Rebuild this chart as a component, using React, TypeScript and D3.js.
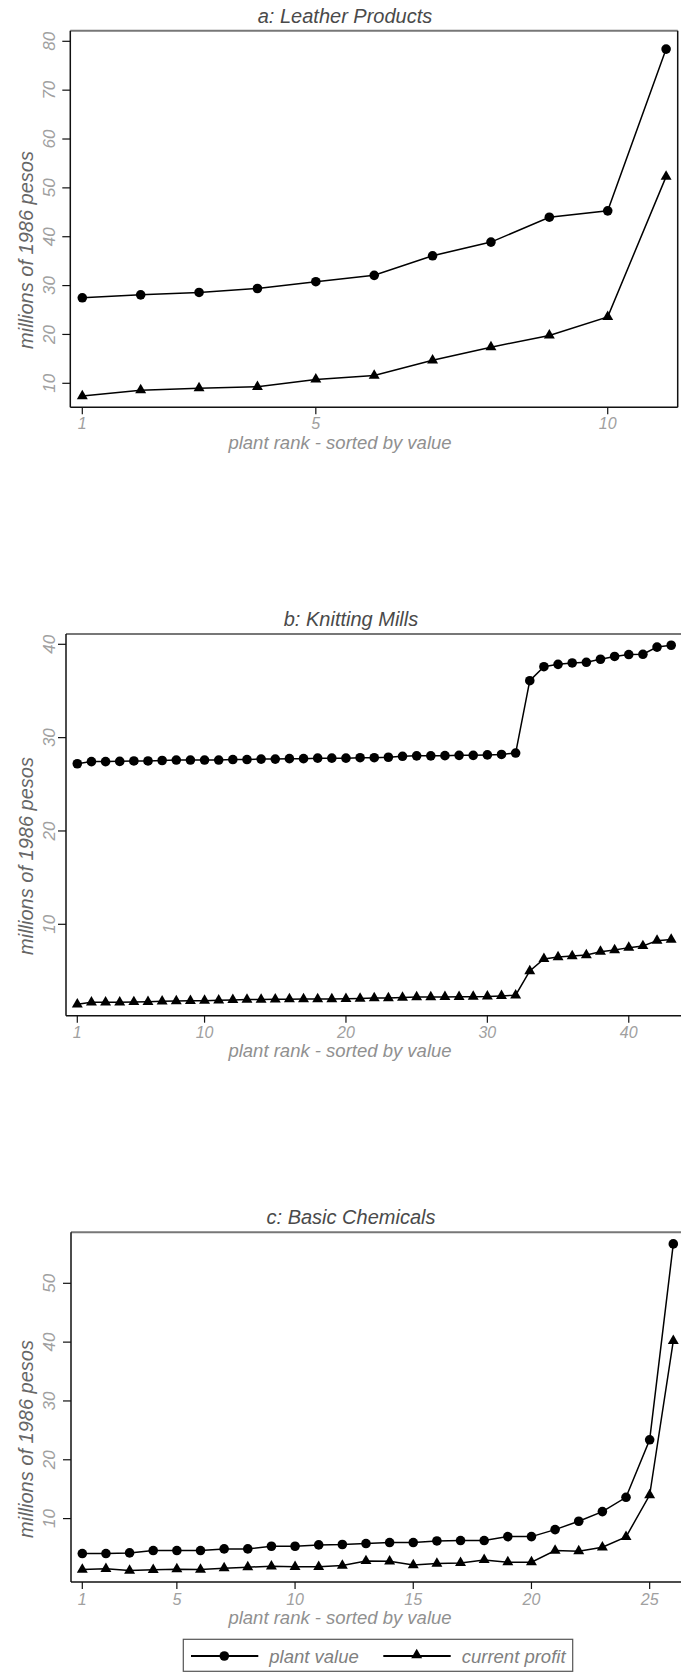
import React from "react";
import * as d3 from "d3";

// plant value / current profit, millions of 1986 pesos, sorted by plant rank
const leatherValue = [27.5, 28.1, 28.6, 29.4, 30.8, 32.1, 36.1, 38.9, 44.0, 45.3, 78.4];
const leatherProfit = [7.4, 8.6, 9.0, 9.3, 10.8, 11.6, 14.7, 17.4, 19.8, 23.6, 52.3];

const knittingValue = [
  27.2, 27.43, 27.43, 27.46, 27.5, 27.5, 27.55, 27.6, 27.6, 27.6, 27.6, 27.65, 27.65, 27.7, 27.7,
  27.75, 27.75, 27.8, 27.8, 27.8, 27.85, 27.85, 27.9, 28.0, 28.05, 28.05, 28.07, 28.1, 28.1, 28.15,
  28.2, 28.35, 36.1, 37.6, 37.85, 38.0, 38.07, 38.4, 38.7, 38.9, 38.93, 39.7, 39.9,
];
const knittingProfit = [
  1.43, 1.64, 1.64, 1.65, 1.68, 1.7, 1.75, 1.78, 1.8, 1.82, 1.86, 1.9, 1.93, 1.93, 1.96, 1.98, 2.0,
  2.0, 2.0, 2.02, 2.05, 2.1, 2.1, 2.15, 2.2, 2.2, 2.22, 2.23, 2.25, 2.27, 2.33, 2.4, 5.0, 6.29, 6.5,
  6.6, 6.7, 7.07, 7.25, 7.5, 7.68, 8.25, 8.36,
];

const chemValue = [
  4.06, 4.06, 4.17, 4.57, 4.57, 4.57, 4.85, 4.85, 5.3, 5.3, 5.53, 5.6, 5.76, 5.93, 5.93, 6.2, 6.27,
  6.27, 6.94, 6.94, 8.13, 9.55, 11.19, 13.62, 23.4, 56.7,
];
const chemProfit = [
  1.34, 1.46, 1.17, 1.29, 1.4, 1.34, 1.57, 1.74, 1.9, 1.8, 1.8, 2.02, 2.8, 2.75, 2.1, 2.36, 2.47,
  2.98, 2.6, 2.6, 4.57, 4.46, 5.13, 6.89, 14.0, 40.2,
];

const leatherXTicks = [1, 5, 10];
const leatherYTicks = [10, 20, 30, 40, 50, 60, 70, 80];
const knittingXTicks = [1, 10, 20, 30, 40];
const knittingYTicks = [10, 20, 30, 40];
const chemXTicks = [1, 5, 10, 15, 20, 25];
const chemYTicks = [10, 20, 30, 40, 50];

const FONT = "'Liberation Sans', Arial, Helvetica, sans-serif";
const TRI_SIZE = 52;
const DOT_R = 4.8;

type PanelProps = {
  title: string;
  value: number[];
  profit: number[];
  xTicks: number[];
  yTicks: number[];
  box: { left: number; right: number; top: number; bottom: number };
  x0: number;
  unit: number;
  yRange: [number, number];
  titleX: number;
  titleY: number;
  xTickY: number;
  xLabelY: number;
  yLabelY: number;
};

const Panel = (p: PanelProps) => {
  const n = p.value.length;
  const x = d3.scaleLinear().domain([1, n]).range([p.x0, p.x0 + (n - 1) * p.unit]);
  const yMin = p.yTicks[0];
  const yMax = p.yTicks[p.yTicks.length - 1];
  const y = d3.scaleLinear().domain([yMin, yMax]).range(p.yRange);

  const line = d3
    .line<number>()
    .x((_, i) => x(i + 1))
    .y((d) => y(d));
  const tri = d3.symbol().type(d3.symbolTriangle).size(TRI_SIZE)();
  const { left, right, top, bottom } = p.box;

  return (
    <g>
      <text
        x={p.titleX}
        y={p.titleY}
        textAnchor="middle"
        fontFamily={FONT}
        fontStyle="italic"
        fontSize={20}
        fill="#4a4a4a"
      >
        {p.title}
      </text>

      {/* frame */}
      <line x1={left} x2={right} y1={top} y2={top} stroke="#777" strokeWidth={2} />
      <line x1={left} x2={left} y1={top} y2={bottom} stroke="#111" strokeWidth={1.5} />
      <line x1={left} x2={right} y1={bottom} y2={bottom} stroke="#111" strokeWidth={1.5} />
      <line x1={right} x2={right} y1={top} y2={bottom} stroke="#111" strokeWidth={1.5} />

      {/* y axis */}
      {p.yTicks.map((t) => (
        <g key={"y" + t} transform={`translate(0,${y(t)})`}>
          <line x1={left - 8} x2={left} stroke="#111" strokeWidth={1.2} />
          <text
            transform="translate(55,0) rotate(-90)"
            textAnchor="middle"
            fontFamily={FONT}
            fontStyle="italic"
            fontSize={17}
            fill="#a0a0a0"
          >
            {t}
          </text>
        </g>
      ))}
      <text
        transform={`translate(33,${p.yLabelY}) rotate(-90)`}
        textAnchor="middle"
        fontFamily={FONT}
        fontStyle="italic"
        fontSize={20}
        fill="#666"
      >
        millions of 1986 pesos
      </text>

      {/* x axis */}
      {p.xTicks.map((t) => (
        <g key={"x" + t} transform={`translate(${x(t)},0)`}>
          <line y1={bottom} y2={bottom + 7} stroke="#111" strokeWidth={1.2} />
          <text
            y={p.xTickY}
            textAnchor="middle"
            fontFamily={FONT}
            fontStyle="italic"
            fontSize={16}
            fill="#a0a0a0"
          >
            {t}
          </text>
        </g>
      ))}
      <text
        x={340}
        y={p.xLabelY}
        textAnchor="middle"
        fontFamily={FONT}
        fontStyle="italic"
        fontSize={18.5}
        fill="#909090"
      >
        plant rank - sorted by value
      </text>

      {/* series */}
      <path d={line(p.value) || ""} fill="none" stroke="#000" strokeWidth={1.5} />
      <path d={line(p.profit) || ""} fill="none" stroke="#000" strokeWidth={1.5} />
      {p.value.map((v, i) => (
        <circle key={"c" + i} cx={x(i + 1)} cy={y(v)} r={DOT_R} fill="#000" />
      ))}
      {p.profit.map((v, i) => (
        <path key={"t" + i} d={tri || ""} transform={`translate(${x(i + 1)},${y(v)})`} fill="#000" />
      ))}
    </g>
  );
};

const App = () => {
  const tri = d3.symbol().type(d3.symbolTriangle).size(TRI_SIZE)();
  return (
    <svg
      width={681}
      height={1672}
      style={{ position: "absolute", left: 0, top: 0, background: "#fff", overflow: "hidden" }}
    >
      <rect width={681} height={1672} fill="#fff" />
      <Panel
        title="a: Leather Products"
        value={leatherValue}
        profit={leatherProfit}
        xTicks={leatherXTicks}
        yTicks={leatherYTicks}
        box={{ left: 70.3, right: 677.7, top: 30.7, bottom: 407.3 }}
        x0={82.3}
        unit={58.38}
        yRange={[383.3, 41.3]}
        titleX={345}
        titleY={23}
        xTickY={429}
        xLabelY={449}
        yLabelY={250}
      />
      <Panel
        title="b: Knitting Mills"
        value={knittingValue}
        profit={knittingProfit}
        xTicks={knittingXTicks}
        yTicks={knittingYTicks}
        box={{ left: 66, right: 700, top: 634, bottom: 1015.7 }}
        x0={77.3}
        unit={14.14}
        yRange={[924.3, 644.3]}
        titleX={351}
        titleY={626}
        xTickY={1038}
        xLabelY={1057}
        yLabelY={856}
      />
      <Panel
        title="c: Basic Chemicals"
        value={chemValue}
        profit={chemProfit}
        xTicks={chemXTicks}
        yTicks={chemYTicks}
        box={{ left: 71, right: 700, top: 1232.3, bottom: 1582 }}
        x0={82.3}
        unit={23.64}
        yRange={[1518.6, 1283.3]}
        titleX={351}
        titleY={1223.5}
        xTickY={1605}
        xLabelY={1624}
        yLabelY={1439}
      />

      {/* legend */}
      <rect x={183.3} y={1639.3} width={389.4} height={32} fill="none" stroke="#555" strokeWidth={1.2} />
      <line x1={191} x2={258.3} y1={1656} y2={1656} stroke="#000" strokeWidth={2.2} />
      <circle cx={224.3} cy={1656} r={DOT_R} fill="#000" />
      <text x={269.3} y={1662.5} fontFamily={FONT} fontStyle="italic" fontSize={18.5} fill="#808080">
        plant value
      </text>
      <line x1={383.3} x2={450.7} y1={1656} y2={1656} stroke="#000" strokeWidth={2.2} />
      <path d={tri || ""} transform="translate(416.7,1655)" fill="#000" />
      <text x={461.7} y={1662.5} fontFamily={FONT} fontStyle="italic" fontSize={18.5} fill="#808080">
        current profit
      </text>
    </svg>
  );
};

export default App;
